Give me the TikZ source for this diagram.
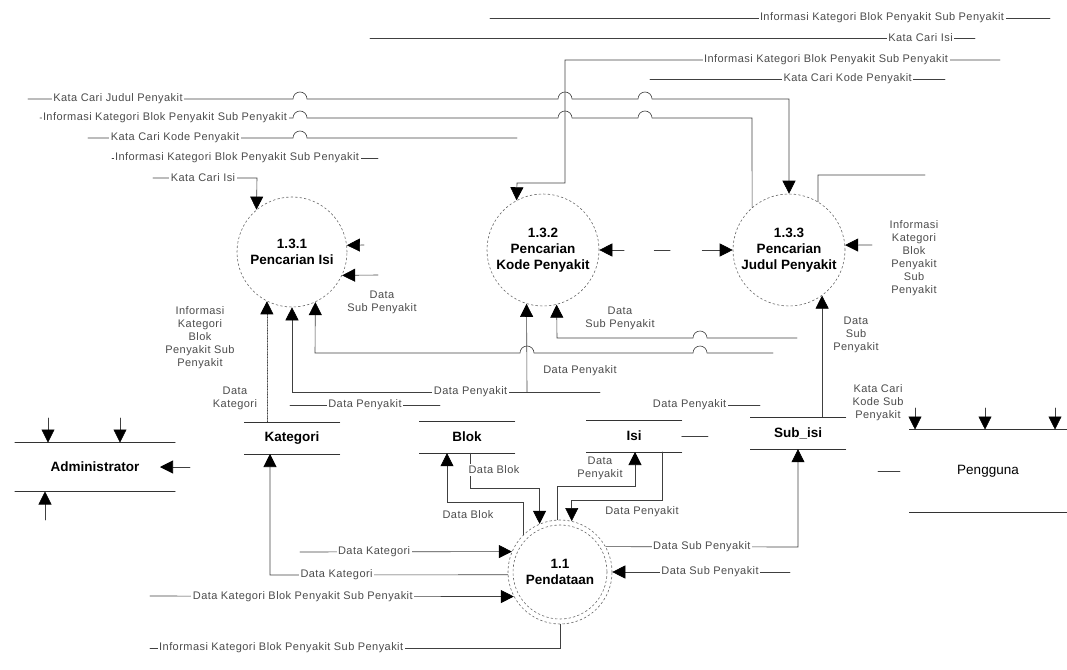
\documentclass[tikz,border=0pt]{standalone}
\usepackage{fontspec}
\setmainfont{Liberation Sans}
\newfontfamily\flowfont[LetterSpace=4]{Liberation Sans}
\usetikzlibrary{calc,positioning,arrows.meta}

\tikzset{
  proc/.style={circle, draw=black!60, line width=0.6pt, dash pattern=on 2pt off 2.5pt,
    minimum size=112pt, inner sep=0pt, align=center, font=\bfseries\fontsize{13.5}{16}\selectfont},
  procline/.style={draw=black!60, line width=0.6pt, dash pattern=on 2pt off 2.5pt},
  storename/.style={minimum width=95pt, minimum height=32pt, inner sep=0pt,
    font=\bfseries\fontsize{13.5}{16}\selectfont},
  storeline/.style={line width=0.6pt, draw=black!80},
  extname/.style={inner sep=0pt, font=\fontsize{13.5}{16}\selectfont},
  flowline/.style={line width=0.6pt, draw=black!75},
  faint/.style={flowline, densely dotted},
  into/.style={-{Triangle[width=13pt,length=13pt,color=black]}},
  lbl/.style={font=\flowfont\fontsize{11}{13}\selectfont, text=black!70, fill=white,
    inner sep=1.5pt, align=center},
}

\begin{document}
\begin{tikzpicture}[x=1pt, y=-1pt, line cap=round]
  \useasboundingbox (0,0) rectangle (1067,669);

  \newcommand{\datastore}[3]{% #1=name, #2=position, #3=label
    \node[storename] (#1) at (#2) {#3};
    \draw[storeline] (#1.north west) -- (#1.north east);
    \draw[storeline] (#1.south west) -- (#1.south east);
  }
  \newcommand{\entity}[4]{% #1=name, #2=position, #3=label, #4=size options
    \node[extname, #4] (#1) at (#2) {#3};
    \draw[storeline] (#1.north west) -- (#1.north east);
    \draw[storeline] (#1.south west) -- (#1.south east);
  }

  % processes
  \node[proc, minimum size=110pt] (cariisi) at (292,252) {1.3.1\\Pencarian Isi};
  \node[proc] (carikode) at (543,250) {1.3.2\\Pencarian\\Kode Penyakit};
  \node[proc] (carijudul) at (789,250) {1.3.3\\Pencarian\\Judul Penyakit};
  \node[proc, minimum size=104pt] (pendataan) at (560,572) {1.1\\Pendataan};
  \draw[procline] (pendataan.center) circle[radius=47];

  % data stores
  \datastore{kategori}{292,438}{Kategori}
  \datastore{blok}{467,437}{Blok}
  \datastore{isi}{634,436}{Isi}
  \datastore{subisi}{798,433}{Sub\_isi}

  % terminators
  \entity{admin}{95,467}{\bfseries Administrator}{minimum width=160pt, minimum height=49pt}
  \entity{pengguna}{988,471}{Pengguna}{minimum width=157pt, minimum height=83pt}

  % free ends
  \coordinate (t1) at (490,18);
  \coordinate (t2) at (370,38);
  \coordinate (t3) at (1000,60);
  \coordinate (t4) at (945,79);
  \coordinate (l1) at (28,99);
  \coordinate (l2) at (40,118);
  \coordinate (l3) at (88,138);
  \coordinate (l4) at (112,158);
  \coordinate (l5) at (153,178);

  % flows at the top
  \draw[flowline] (t1) -- node[lbl, pos=0.7] (lt1) {Informasi Kategori Blok Penyakit Sub Penyakit} (1050,18);
  \draw[flowline] (t2) -- node[lbl, pos=0.91] (lt2) {Kata Cari Isi} (975,38);
  \draw[flowline, into] (t3) -- node[lbl, pos=0.4] (lt3) {Informasi Kategori Blok Penyakit Sub Penyakit}
    (565,60) -- (565,183) -- (517,183) -- (carikode.118);
  \draw[flowline] (t4) -- node[lbl, pos=0.33] (lt4) {Kata Cari Kode Penyakit} (650,79);

  \draw[flowline, into] (l1) -- (293,99) arc (180:360:7) -- (558,99) arc (180:360:7)
    -- (638,99) arc (180:360:7) -- (789,99) -- (carijudul.north);
  \node[lbl] (ll1) at (118,99) {Kata Cari Judul Penyakit};
  \draw[flowline] (l2) -- (293,118) arc (180:360:7) -- (558,118) arc (180:360:7)
    -- (638,118) arc (180:360:7) -- (752,118) -- (carijudul.131);
  \node[lbl] (ll2) at (165,118) {Informasi Kategori Blok Penyakit Sub Penyakit};
  \draw[flowline] (l3) -- (293,138) arc (180:360:7) -- (517,138);
  \node[lbl] (ll3) at (175,138) {Kata Cari Kode Penyakit};
  \draw[flowline] (l4) -- node[lbl, pos=0.47] (ll4) {Informasi Kategori Blok Penyakit Sub Penyakit} (378,158);
  \draw[flowline, into] (l5) -- (257,178) -- (cariisi.130);
  \node[lbl] (ll5) at (203,178) {Kata Cari Isi};

  % around 1.3.1
  \draw[faint, into] (kategori.north -| cariisi.243) -- (cariisi.243);
  \node[lbl] (ldk) at (235,398) {Data\\Kategori};
  \node[lbl] (linf) at (200,338) {Informasi\\Kategori\\Blok\\Penyakit Sub\\Penyakit};
  \draw[flowline, into] (527,392) -- (carikode.253);
  \draw[flowline, into] (600,392) -- node[lbl, pos=0.42] (ldp1) {Data Penyakit} (292,392) -- (cariisi.south);
  \draw[flowline, into] (773,353) -- (707,353) arc (360:180:7) -- (534,353) arc (360:180:7)
    -- (315,353) -- (cariisi.295);
  \node[lbl] (ldp2) at (580,371) {Data Penyakit};
  \draw[flowline, into] (364,245) -- (cariisi.7);
  \draw[flowline, into] (378,275) -- (cariisi.335);
  \node[lbl] (lds1) at (382,302) {Data\\Sub Penyakit};

  % around 1.3.2 and 1.3.3
  \draw[flowline, {Triangle[width=13pt,length=13pt,color=black]}-{Triangle[width=13pt,length=13pt,color=black]},
    dash pattern=on 12pt off 30pt on 16pt off 32pt on 22pt off 10pt]
    (carikode.east) -- (carijudul.west);
  \draw[flowline, into] (797,338) -- (707,338) arc (360:180:7) -- (557,338) -- (carikode.284);
  \node[lbl] (lds2) at (620,318) {Data\\Sub Penyakit};
  \draw[flowline, into] (872,245) -- (carijudul.5);
  \node[lbl] (linf2) at (914,258) {Informasi\\Kategori\\Blok\\Penyakit\\Sub\\Penyakit};
  \draw[flowline] (925,175) -- (818,175) -- (carijudul.59);
  \draw[flowline, into] (subisi.north -| carijudul.306) -- (carijudul.306);
  \node[lbl] (lds3) at (856,335) {Data\\Sub\\Penyakit};

  % lines above the stores
  \draw[flowline] (290,405) -- node[lbl] (ldp3) {Data Penyakit} (440,405);
  \draw[flowline] (655,405) -- node[lbl, pos=0.33] (ldp4) {Data Penyakit} (760,405);

  % around 1.1
  \draw[flowline, into] (pendataan.135) |- (447,502) -- ($(blok.south)+(-20,0)$);
  \node[lbl] (ldb1) at (468,515) {Data Blok};
  \draw[flowline, into] ($(blok.south)+(3,0)$) -- (470,488) -| (pendataan.113);
  \node[lbl] (ldb2) at (494,470) {Data Blok};
  \draw[flowline, into] (pendataan.93) |- (635,486) -- (635,452);
  \node[lbl] (ldp5) at (600,468) {Data\\Penyakit};
  \draw[flowline, into] (662,452) -- (662,500) -| (pendataan.77);
  \node[lbl] (ldp6) at (642,512) {Data Penyakit};
  \draw[flowline] (isi.east) -- (708,436);

  \draw[flowline, into] (pendataan.29) -- node[lbl, pos=0.5] (lds4) {Data Sub Penyakit} (798,547) -- (subisi.south);
  \draw[flowline, into] (790,572) -- node[lbl, pos=0.45] (lds5) {Data Sub Penyakit} (pendataan.east);

  \draw[flowline, into] (pendataan.183) -- node[lbl, pos=0.72] (ldk1) {Data Kategori} (270,575) -- (270,454);
  \draw[flowline, into] (300,552) -- node[lbl, pos=0.35] (ldk2) {Data Kategori} (pendataan.157);
  \draw[flowline, into] (150,596) -- node[lbl, pos=0.42] (ldk3) {Data Kategori Blok Penyakit Sub Penyakit} (pendataan.208);
  \draw[flowline] (pendataan.south) -- (560,648) -- node[lbl, pos=0.68] (linf3) {Informasi Kategori Blok Penyakit Sub Penyakit} (150,648);

  % terminator stubs
  \draw[flowline, into] (48,418) -- (48,442.5);
  \draw[flowline, into] (120,418) -- (120,442.5);
  \draw[flowline, into] (45,520) -- (45,491.5);
  \draw[flowline, into] (190,467) -- (160,467);
  \draw[flowline, into] (915,408) -- (915,429.5);
  \draw[flowline, into] (985,408) -- (985,429.5);
  \draw[flowline, into] (1055,408) -- (1055,429.5);
  \node[lbl] (lkc) at (878,403) {Kata Cari\\Kode Sub\\Penyakit};
  \draw[flowline] (878,471) -- (900,471);
\end{tikzpicture}
\end{document}
